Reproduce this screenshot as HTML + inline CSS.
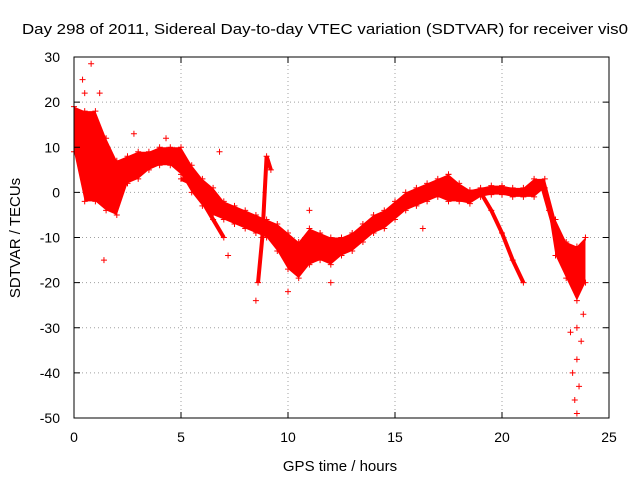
<!DOCTYPE html>
<html><head><meta charset="utf-8"><style>
body{margin:0;background:#fff;}
svg{display:block;font-family:"Liberation Sans",sans-serif;}
</style></head><body>
<svg id="chart" width="640" height="480">
<text x="325" y="34" font-size="15" text-anchor="middle" textLength="606" lengthAdjust="spacingAndGlyphs" fill="#000">Day 298 of 2011, Sidereal Day-to-day VTEC variation (SDTVAR) for receiver vis0</text>
<text x="340" y="471" font-size="15" text-anchor="middle">GPS time / hours</text>
<text transform="translate(20,238) rotate(-90)" font-size="15" text-anchor="middle">SDTVAR / TECUs</text>
<g id="grid"></g><g id="marks"></g><g id="axes"></g>
</svg>
<script>
const xTicks=[0,5,10,15,20,25];
const yTicks=[30,20,10,0,-10,-20,-30,-40,-50];
const mainT=[0,0.5,1,1.5,2,2.5,3,3.5,4,4.5,5,5.5,6,6.5,7,7.5,8,8.5,9,9.5,10,10.5,11,11.5,12,12.5,13,13.5,14,14.5,15,15.5,16,16.5,17,17.5,18,18.5,19,19.5,20,20.5,21,21.5,22,22.5,23,23.5,23.9];
const mainV=[14,8,8,4,1,5,6,7,8,8,7,3,0,-2,-4,-5,-6,-7,-8,-10,-13,-15,-12,-12,-13,-12,-11,-9,-7,-6,-4,-2,-1,0,1,1,0,-1,0,0.5,0.5,0,0,1,2,-10,-15,-18,-15];
const mainS=[5,10,10,8,6,3,3,2,2,2,3,3,3,3,2,2,2,2,2,3,4,4,4,3,3,2,2,2,2,2,2,2,2,2,2,3,2,1.5,1,1,1,1,1,2,1,4,4,6,5];
const branch1T=[19,19.5,20,20.5,21];
const branch1V=[0,-4,-9,-15,-20];
const branch2T=[21.9,22.2,22.5,22.8,23.1];
const branch2V=[1,-4,-9,-12,-15];
const branch3T=[8.6,8.8,9,9.2];
const branch3V=[-20,-10,8,5];
const branch4T=[5,5.5,6,6.5,7];
const branch4V=[3,2,-2,-6,-10];
const outT=[0.8,0.4,0.5,1.2,1.4,4.3,6.8,8.5,7.2,10,12,11,23.5,23.4,23.6,23.3,23.5,23.7,23.5,23.2,23.8,2.8,17.5,16.3];
const outV=[28.5,25,22,22,-15,12,9,-24,-14,-22,-20,-4,-49,-46,-43,-40,-37,-33,-30,-31,-27,13,4,-8];

const X=t=>74+t*(535/25), Y=v=>57+(30-v)*(361/80);
const NS="http://www.w3.org/2000/svg";
function mk(tag,attrs,parent){const e=document.createElementNS(NS,tag);for(const k in attrs)e.setAttribute(k,attrs[k]);parent.appendChild(e);return e;}
const gridG=document.getElementById('grid'),marksG=document.getElementById('marks'),axesG=document.getElementById('axes');
xTicks.forEach(t=>{
 if(t>0&&t<25){const g=mk('line',{x1:X(t),x2:X(t),y1:57,y2:418,stroke:'#a0a0a0','stroke-dasharray':'1,3'},gridG);
 
 }
 const l=mk('text',{x:X(t),y:442,'font-size':14,'text-anchor':'middle'},axesG);l.textContent=t;
 
 
 mk('line',{x1:X(t),x2:X(t),y1:418,y2:412,stroke:'#000'},axesG);
 mk('line',{x1:X(t),x2:X(t),y1:57,y2:63,stroke:'#000'},axesG);
});
yTicks.forEach(v=>{
 if(v<30&&v>-50){const g=mk('line',{x1:74,x2:609,y1:Y(v),y2:Y(v),stroke:'#a0a0a0','stroke-dasharray':'1,3'},gridG);
 
 }
 const l=mk('text',{x:60,y:Y(v)+5,'font-size':14,'text-anchor':'end'},axesG);l.textContent=v;
 
 
 mk('line',{x1:74,x2:80,y1:Y(v),y2:Y(v),stroke:'#000'},axesG);
 mk('line',{x1:609,x2:603,y1:Y(v),y2:Y(v),stroke:'#000'},axesG);
});
const fr=mk('rect',{x:74,y:57,width:535,height:361,fill:'none',stroke:'#000'},axesG);


const upperPts=mainT.map((t,i)=>X(t)+','+Y(mainV[i]+mainS[i])).join(' ');
const lowerPts=mainT.map((t,i)=>X(t)+','+Y(mainV[i]-mainS[i])).reverse().join(' ');
const band=mk('polygon',{points:upperPts+' '+lowerPts,fill:'#ff0000'},marksG);


function plus(x,y,name){const p=mk('path',{d:`M${x-3},${y}h6M${x},${y-3}v6`,stroke:'#ff0000','stroke-width':1},marksG);
 
 }
mainT.forEach((t,i)=>{plus(X(t),Y(mainV[i]+mainS[i]),'sdtvar-point');plus(X(t),Y(mainV[i]-mainS[i]),'sdtvar-point');});
[[branch1T,branch1V],[branch2T,branch2V],[branch3T,branch3V],[branch4T,branch4V]].forEach(([bt,bv])=>{
 const pl=mk('polyline',{points:bt.map((t,i)=>X(t)+','+Y(bv[i])).join(' '),fill:'none',stroke:'#ff0000','stroke-width':4},marksG);
 
 
 bt.forEach((t,i)=>plus(X(t),Y(bv[i]),'branch-point'));
});
outT.forEach((t,i)=>plus(X(t),Y(outV[i]),'outlier-point'));
</script>
</body></html>
